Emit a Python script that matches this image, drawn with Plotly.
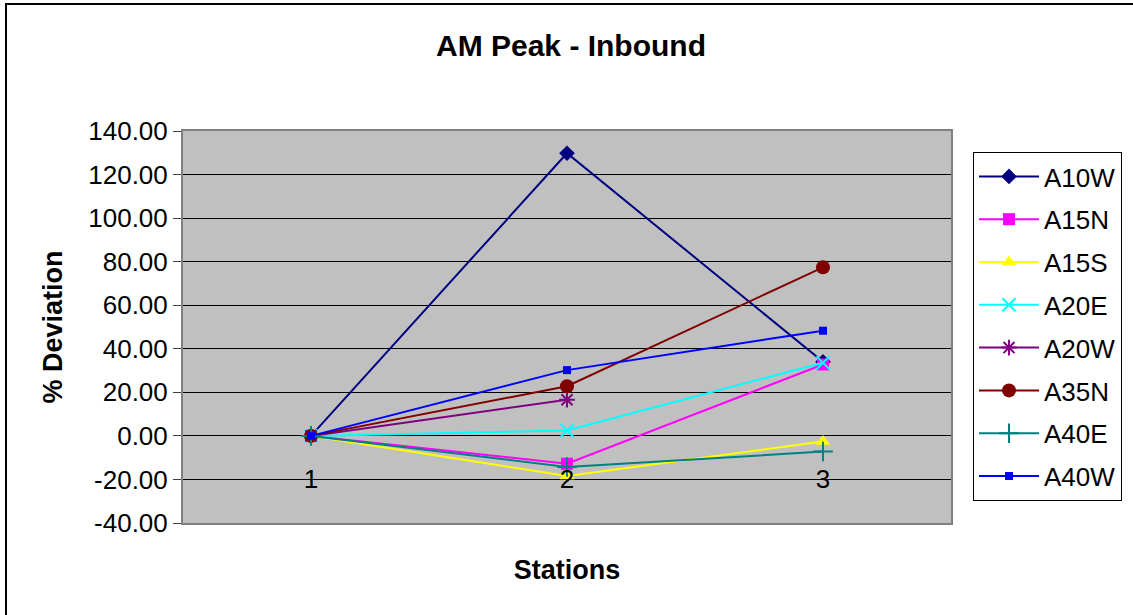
import plotly.graph_objects as go

stations = [1, 2, 3]
station_labels = ["1", "2", "3"]
series_names = ["A10W", "A15N", "A15S", "A20E", "A20W", "A35N", "A40E", "A40W"]
a10w = [0.0, 129.8, 34.0]
a15n = [0.0, -12.8, 32.8]
a15s = [0.0, -18.4, -2.6]
a20e = [0.0, 2.5, 33.6]
a20w = [0.0, 16.6, None]
a35n = [0.0, 22.8, 77.4]
a40e = [0.0, -14.3, -7.2]
a40w = [0.0, 30.2, 48.3]
y_ticks = [-40, -20, 0, 20, 40, 60, 80, 100, 120, 140]
y_tick_labels = [f"{v:.2f}" for v in y_ticks]  # hyphen minus, as in reference

values = [a10w, a15n, a15s, a20e, a20w, a35n, a40e, a40w]
colors = ["#000080", "#FF00FF", "#FFFF00", "#00FFFF", "#800080", "#800000", "#008080", "#0000FF"]
symbols = ["diamond", "square", "triangle-up", "x-thin", "asterisk", "circle", "cross-thin", "square"]
sizes = [12, 12, 13, 13, 13, 14, 14, 8]

FONT = "Liberation Sans, Arial, sans-serif"

fig = go.Figure()
for name, vals, c, s, sz in zip(series_names, values, colors, symbols, sizes):
    thin = s in ("x-thin", "cross-thin", "asterisk")
    fig.add_trace(go.Scatter(
        x=stations, y=vals, name=name, mode="lines+markers",
        legendgroup=name,
        line=dict(color=c, width=2),
        marker=dict(symbol=s, size=sz, color=c,
                    line=dict(color=c, width=2 if thin else 0)),
        connectgaps=False,
    ))

# plot area pixels: left 183, right 951, top 131, bottom 523
W, H = 1133, 615
L, R, T, B = 183, 951, 131, 523
pw, ph = R - L, B - T

def px_x(p):
    return (p - L) / pw

def px_y(p):
    return (B - p) / ph

fig.add_shape(type="rect", xref="paper", yref="paper",
              x0=px_x(6), x1=px_x(1400), y0=px_y(800), y1=px_y(4),
              line=dict(color="#000000", width=2), fillcolor="rgba(0,0,0,0)",
              layer="below")

fig.update_layout(
    width=W, height=H,
    margin=dict(l=L, r=W - R, t=T, b=H - B, autoexpand=False),
    paper_bgcolor="#FFFFFF",
    plot_bgcolor="#C0C0C0",
    font=dict(family=FONT, size=26, color="#000000"),
    title=dict(text="<b>AM Peak - Inbound</b>", x=571 / W,
               xref="container", xanchor="center",
               y=1 - 45 / H, yref="container", yanchor="middle",
               font=dict(family=FONT, size=30, color="#000000")),
    showlegend=True,
    legend=dict(x=px_x(973), y=px_y(152), xanchor="left", yanchor="top",
                xref="paper", yref="paper",
                bgcolor="#FFFFFF", bordercolor="#000000", borderwidth=1,
                font=dict(family=FONT, size=26, color="#000000"),
                tracegroupgap=6, itemwidth=60),
    xaxis=dict(range=[0.5, 3.5], showticklabels=False, ticks="",
               showgrid=False, zeroline=False,
               showline=True, linecolor="#808080", linewidth=2, mirror=True,
               title=dict(text="<b>Stations</b>", standoff=36,
                          font=dict(family=FONT, size=27, color="#000000"))),
    xaxis2=dict(overlaying="x", matches="x", anchor="free",
                position=(0 - (-40)) / 180.0,
                tickvals=stations, ticktext=station_labels,
                ticks="outside", ticklen=20, tickcolor="rgba(0,0,0,0)",
                showgrid=False, zeroline=False, showline=False,
                tickfont=dict(family=FONT, size=26, color="#000000")),
    yaxis=dict(range=[-40, 140], tickvals=y_ticks, ticktext=y_tick_labels,
               ticks="outside", ticklen=8, tickcolor="#404040", tickwidth=1,
               showgrid=True, gridcolor="#000000", gridwidth=1,
               zeroline=True, zerolinecolor="#000000", zerolinewidth=1,
               showline=True, linecolor="#808080", linewidth=2, mirror=True,
               title=dict(text="<b>% Deviation</b>", standoff=18,
                          font=dict(family=FONT, size=27, color="#000000"))),
)

# invisible helper trace so the overlaid label axis is active
fig.add_trace(go.Scatter(x=stations, y=[None, None, None], xaxis="x2",
                         showlegend=False, hoverinfo="skip", mode="markers"))

fig.write_html("out.html")
